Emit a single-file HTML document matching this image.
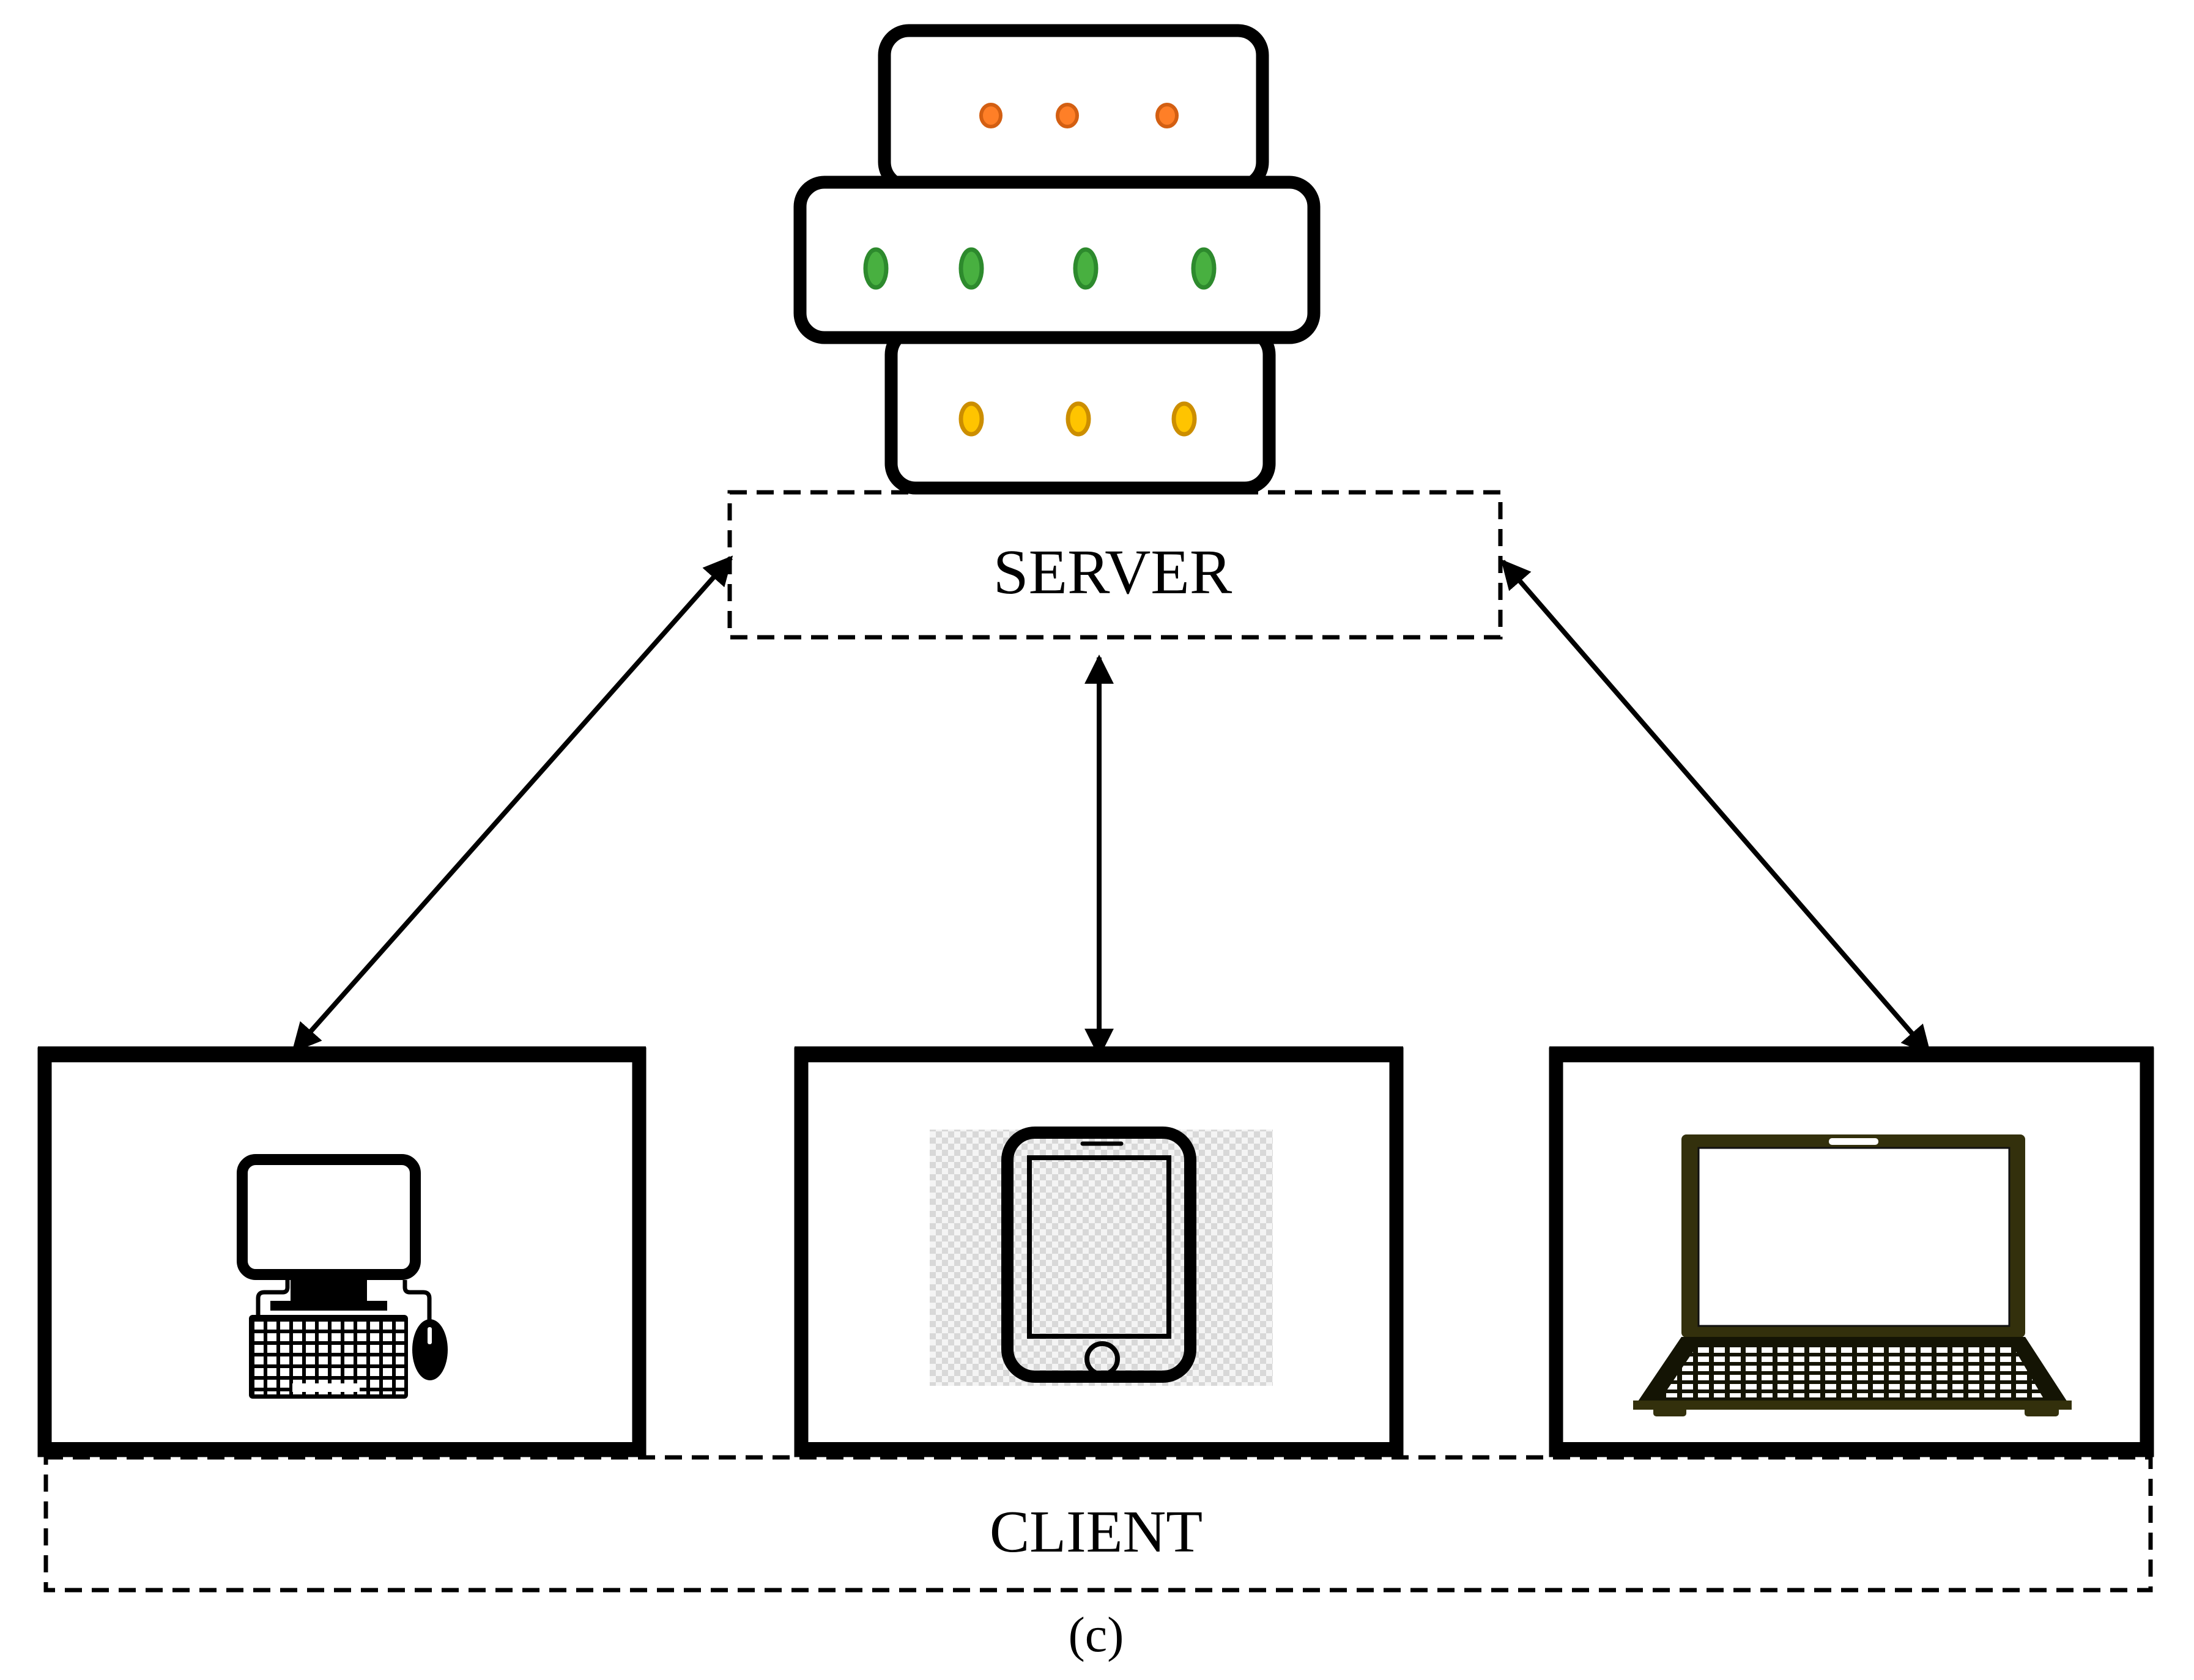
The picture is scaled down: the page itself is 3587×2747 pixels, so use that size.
<!DOCTYPE html>
<html><head><meta charset="utf-8"><style>
html,body{margin:0;padding:0;background:#fff;}
svg{display:block;}
</style></head><body>
<svg width="3587" height="2747" viewBox="0 0 3587 2747" xmlns="http://www.w3.org/2000/svg">
<defs>
<pattern id="chk" width="20" height="20" patternUnits="userSpaceOnUse">
<rect width="20" height="20" fill="#f4f4f4"/>
<rect width="10" height="10" fill="#d8d8d8"/><rect x="10" y="10" width="10" height="10" fill="#d8d8d8"/>
</pattern>
<pattern id="keys" x="413" y="2158" width="21" height="19" patternUnits="userSpaceOnUse">
<rect width="21" height="19" fill="#000"/><rect x="3" y="3" width="15" height="13" fill="#fff"/>
</pattern>
<pattern id="lkeys" x="2746" y="2200" width="26" height="15" patternUnits="userSpaceOnUse">
<rect width="26" height="15" fill="#141404"/><rect x="4" y="3" width="18" height="9" fill="#fff"/>
</pattern>
<marker id="ah" viewBox="0 0 10 10" refX="9" refY="5" markerWidth="6" markerHeight="6" orient="auto-start-reverse" markerUnits="strokeWidth">
<path d="M0,0 L10,5 L0,10 z" fill="#000"/>
</marker>
</defs>

<g transform="translate(-10,0)">
<g stroke="#000" stroke-width="21" fill="#fff">
<rect x="1456" y="50" width="618" height="255" rx="40"/>
<rect x="1467" y="540" width="618" height="258" rx="40"/>
<rect x="1318" y="298" width="840" height="254" rx="40"/>
</g>
<g stroke="#d35f12" stroke-width="6" fill="#ff7f27">
<ellipse cx="1630" cy="189" rx="16" ry="18"/><ellipse cx="1755" cy="189" rx="16" ry="18"/><ellipse cx="1918" cy="189" rx="16" ry="18"/>
</g>
<g stroke="#2d8a2d" stroke-width="7" fill="#48b040">
<ellipse cx="1442" cy="439" rx="17" ry="31"/><ellipse cx="1598" cy="439" rx="17" ry="31"/><ellipse cx="1785" cy="439" rx="17" ry="31"/><ellipse cx="1978" cy="439" rx="17" ry="31"/>
</g>
<g stroke="#cc8e00" stroke-width="7" fill="#ffc400">
<ellipse cx="1598" cy="685" rx="17" ry="25"/><ellipse cx="1773" cy="685" rx="17" ry="25"/><ellipse cx="1946" cy="685" rx="17" ry="25"/>
</g>
</g>

<rect x="1193" y="805" width="1260" height="237" fill="none" stroke="#000" stroke-width="7" stroke-dasharray="28,16"/>
<text x="1819" y="970" font-family="Liberation Serif, serif" font-size="104" text-anchor="middle">SERVER</text>

<g stroke="#000" stroke-width="8" fill="none">
<line x1="480" y1="1718" x2="1195" y2="912" marker-start="url(#ah)" marker-end="url(#ah)"/>
<line x1="1797" y1="1725" x2="1797" y2="1075" marker-start="url(#ah)" marker-end="url(#ah)"/>
<line x1="3154" y1="1722" x2="2457" y2="918" marker-start="url(#ah)" marker-end="url(#ah)"/>
</g>

<g stroke="#000" fill="#fff">
<rect x="73" y="1724" width="972" height="647" stroke-width="23"/>
<rect x="1310" y="1724" width="973" height="647" stroke-width="23"/>
<rect x="2544" y="1724" width="966" height="647" stroke-width="23"/>
</g>
<rect x="62" y="1711" width="994" height="26" fill="#000"/>
<rect x="1299" y="1711" width="995" height="26" fill="#000"/>
<rect x="2533" y="1711" width="988" height="26" fill="#000"/>
<rect x="62" y="2358" width="994" height="22" fill="#000"/>
<rect x="1299" y="2358" width="995" height="22" fill="#000"/>
<rect x="2533" y="2358" width="988" height="22" fill="#000"/>

<rect x="396" y="1896" width="283" height="188" rx="22" fill="#fff" stroke="#000" stroke-width="18"/>
<rect x="475" y="2093" width="125" height="40" fill="#000"/>
<rect x="442" y="2127" width="191" height="16" fill="#000"/>
<path d="M470,2093 v12 q0,8 -8,8 h-30 q-10,0 -10,10 v30" stroke="#000" stroke-width="7" fill="none"/>
<path d="M662,2093 v12 q0,8 8,8 h22 q10,0 10,10 v35" stroke="#000" stroke-width="7" fill="none"/>
<rect x="407" y="2150" width="260" height="137" rx="6" fill="#000"/>
<rect x="413" y="2158" width="248" height="122" fill="url(#keys)"/>
<rect x="478" y="2262" width="110" height="14" fill="#fff"/>
<ellipse cx="703" cy="2207" rx="29" ry="50" fill="#000"/>
<rect x="699" y="2170" width="7" height="28" rx="3" fill="#fff"/>

<rect x="1520" y="1847" width="561" height="419" fill="url(#chk)"/>
<rect x="1647" y="1852" width="299" height="399" rx="45" fill="none" stroke="#000" stroke-width="20"/>
<rect x="1683" y="1893" width="228" height="292" fill="none" stroke="#000" stroke-width="8"/>
<line x1="1770" y1="1870" x2="1833" y2="1870" stroke="#000" stroke-width="7" stroke-linecap="round"/>
<circle cx="1802" cy="2222" r="25" fill="none" stroke="#000" stroke-width="8"/>

<g transform="translate(-14,0)">
<rect x="2763" y="1855" width="562" height="332" rx="8" fill="#33300c"/>
<rect x="2791" y="1877" width="508" height="291" fill="#fff" stroke="#111" stroke-width="3"/>
<rect x="3004" y="1861" width="81" height="11" rx="5" fill="#fff"/>
<polygon points="2763,2186 3325,2186 3401,2303 2684,2303" fill="#141404"/>
<polygon points="2684,2290 3401,2290 3401,2305 2684,2305" fill="#33300c"/>
<rect x="2717" y="2300" width="54" height="16" rx="5" fill="#33300c"/>
<rect x="3324" y="2300" width="56" height="16" rx="5" fill="#33300c"/>
</g>
<polygon points="2775,2200 3290,2200 3340,2285 2717,2285" fill="url(#lkeys)"/>

<rect x="75" y="2383" width="3441" height="217" fill="none" stroke="#000" stroke-width="7" stroke-dasharray="28,16"/>
<text x="1792" y="2537" font-family="Liberation Serif, serif" font-size="98" text-anchor="middle">CLIENT</text>
<text x="1792" y="2700" font-family="Liberation Serif, serif" font-size="82" text-anchor="middle">(c)</text>
</svg>
</body></html>
